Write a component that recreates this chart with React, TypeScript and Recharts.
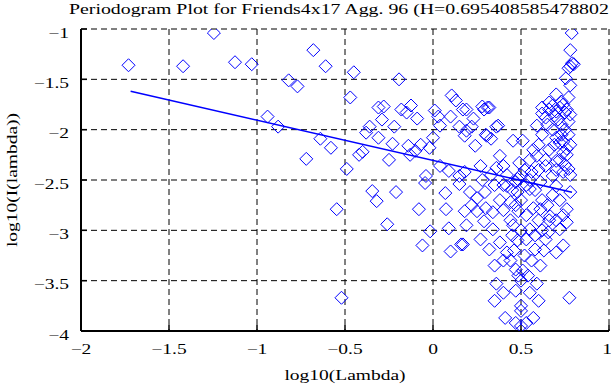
import React from "react";
import { ScatterChart, Scatter, XAxis, YAxis, CartesianGrid } from "recharts";

const X_TICKS = [-2, -1.5, -1, -0.5, 0, 0.5, 1];
const Y_TICKS = [-4, -3.5, -3, -2.5, -2, -1.5, -1];

// log10(Lambda), log10(I(lambda))
const periodogram: [number, number][] = [
  [-1.73, -1.36], [-1.42, -1.37], [-1.245, -1.04], [-1.125, -1.33], [-1.03, -1.35],
  [-0.82, -1.51], [-0.77, -1.57], [-0.68, -1.21], [-0.61, -1.37], [-0.45, -1.43],
  [-0.47, -1.68], [-0.94, -1.87], [-0.88, -1.97], [-0.64, -2.09], [-0.58, -2.18],
  [-0.72, -2.29], [-0.49, -2.39], [-0.42, -2.25], [-0.4, -2.22], [-0.38, -2.03],
  [-0.31, -1.78], [-0.345, -2.61], [-0.547, -2.79], [-0.52, -3.67], [-0.193, -1.5],
  [-0.28, -1.77], [-0.29, -1.9], [-0.22, -1.97], [-0.18, -1.8], [-0.125, -1.76],
  [-0.15, -1.83], [-0.09, -1.89], [-0.36, -1.97], [-0.31, -2.08], [-0.23, -2.14],
  [-0.14, -2.16], [-0.07, -2.15], [-0.25, -2.3], [-0.13, -2.25], [-0.1, -2.21],
  [-0.02, -2.18], [0.0, -2.08], [0.01, -1.81], [0.03, -1.87], [0.106, -1.66],
  [0.13, -1.71], [0.1, -1.87], [0.17, -1.8], [0.04, -1.96], [0.15, -1.97],
  [0.18, -2.06], [-0.32, -2.71], [-0.21, -2.62], [-0.045, -2.53], [-0.04, -2.46],
  [-0.08, -2.79], [-0.26, -2.94], [-0.016, -3.01], [-0.06, -3.15], [0.07, -2.63],
  [0.074, -2.79], [0.09, -2.98], [0.1, -3.21], [0.16, -3.14], [0.04, -2.36],
  [0.09, -2.41], [0.15, -2.46],
  // right-hand cluster
  [0.788, -1.04], [0.78, -1.21], [0.79, -1.34], [0.78, -1.37], [0.77, -1.39],
  [0.8, -1.35], [0.755, -1.49], [0.78, -1.56], [0.77, -1.68], [0.7, -1.65],
  [0.62, -1.78], [0.66, -1.73], [0.31, -1.78], [0.29, -1.8], [0.19, -1.8],
  [0.23, -1.89], [0.37, -1.96], [0.59, -1.96], [0.305, -2.06], [0.33, -2.09],
  [0.455, -2.11], [0.51, -2.11], [0.19, -2.01], [0.24, -2.16], [0.38, -2.26],
  [0.49, -2.33], [0.27, -2.36], [0.4, -2.36], [0.64, -2.36], [0.59, -2.26],
  [0.7, -2.31], [0.77, -2.39], [0.74, -2.23], [0.72, -2.13], [0.76, -2.19],
  [0.18, -2.42], [0.15, -2.54], [0.21, -2.62], [0.295, -2.62], [0.42, -2.56],
  [0.48, -2.49], [0.55, -2.59], [0.61, -2.52], [0.68, -2.46], [0.7, -2.56],
  [0.78, -2.62], [0.18, -2.81], [0.25, -2.81], [0.34, -2.82], [0.44, -2.72],
  [0.485, -2.81], [0.61, -2.79], [0.665, -2.86], [0.76, -2.79], [0.76, -2.92],
  [0.19, -2.95], [0.29, -2.91], [0.34, -2.99], [0.455, -2.95], [0.55, -2.99],
  [0.655, -3.02], [0.72, -2.99], [0.17, -3.14], [0.27, -3.09], [0.38, -3.12],
  [0.53, -3.09], [0.64, -3.09], [0.74, -3.15], [0.32, -3.19], [0.42, -3.22],
  [0.58, -3.19], [0.7, -3.22], [0.35, -3.35], [0.47, -3.39], [0.51, -3.4],
  [0.61, -3.35], [0.485, -3.45], [0.36, -3.53], [0.4, -3.62], [0.59, -3.53],
  [0.55, -3.62], [0.35, -3.7], [0.6, -3.7], [0.775, -3.67], [0.41, -3.87],
  [0.47, -3.92], [0.53, -3.92], [0.57, -3.87], [0.5, -3.95], [0.28, -1.77],
  [0.32, -1.78], [0.36, -1.97], [0.3, -2.05], [0.22, -1.97], [0.5, -3.75],
  [0.62, -1.84], [0.64, -1.88], [0.66, -1.8], [0.68, -1.76], [0.7, -1.82],
  [0.72, -1.78], [0.74, -1.75], [0.76, -1.8], [0.78, -1.85], [0.71, -1.9],
  [0.73, -1.95], [0.75, -2.0], [0.77, -2.05], [0.68, -2.0], [0.65, -1.95],
  [0.7, -2.08], [0.74, -2.12], [0.76, -2.25], [0.72, -2.3], [0.75, -2.35],
  [0.78, -2.45], [0.74, -2.42], [0.7, -2.4], [0.66, -2.2], [0.62, -2.05],
  [0.6, -2.15], [0.57, -2.2], [0.55, -2.3], [0.52, -2.4], [0.5, -2.45],
  [0.47, -2.52], [0.45, -2.6], [0.42, -2.45], [0.55, -2.5], [0.58, -2.6],
  [0.62, -2.7], [0.65, -2.75], [0.68, -2.65], [0.72, -2.7], [0.74, -2.85],
  [0.7, -2.9], [0.6, -2.9], [0.53, -2.85], [0.5, -2.7], [0.47, -2.75],
  [0.44, -2.9], [0.4, -2.8], [0.38, -2.7], [0.35, -2.55], [0.33, -2.45],
  [0.5, -3.0], [0.48, -3.1], [0.45, -3.05], [0.52, -3.25], [0.56, -3.3],
  [0.44, -3.3], [0.5, -3.5], [0.5, -3.8], [0.73, -1.72], [0.75, -1.83],
  [0.69, -1.86], [0.77, -1.92], [0.73, -2.05], [0.69, -2.15], [0.78, -2.15],
  [0.64, -2.3], [0.6, -2.4], [0.56, -2.42], [0.53, -2.55], [0.48, -2.62],
  [0.4, -2.55], [0.36, -2.38], [0.28, -2.5], [0.25, -2.68], [0.22, -2.75],
  [0.3, -2.78], [0.57, -2.78], [0.66, -2.9], [0.62, -3.0], [0.58, -3.05],
  [0.46, -3.2], [0.4, -3.3], [0.54, -3.45], [0.47, -3.6], [0.63, -3.2],
];

const fitX = [-1.718, 0.79];
const fitY = [-1.619, -2.622];

const points = periodogram.map(([x, y]) => ({ x, y }));
const fitLine = fitX.map((x, i) => ({ x, y: fitY[i] }));

const BLUE = "#0000ff";
const FONT = "'Liberation Serif', 'Times New Roman', serif";
const STRETCH = 1.3;

const fmt = (v: number) => (v < 0 ? "\u2212" + String(-v) : String(v));

const Diamond = (props: any) => {
  const { cx, cy } = props;
  if (cx == null || cy == null) return <g />;
  const r = 6.5;
  return (
    <path
      d={`M${cx},${cy - r}L${cx + r},${cy}L${cx},${cy + r}L${cx - r},${cy}Z`}
      fill="none"
      stroke={BLUE}
      strokeWidth={1}
    />
  );
};

const BottomTick = (props: any) => {
  const { x, y, payload } = props;
  return (
    <text
      transform={`translate(${x},${y + 29}) scale(${STRETCH},1)`}
      textAnchor="middle"
      fontFamily={FONT}
      fontSize={15}
      fill="#000"
    >
      {fmt(payload.value)}
    </text>
  );
};

const LeftTick = (props: any) => {
  const { x, y, payload } = props;
  return (
    <text
      transform={`translate(${x},${y + 8.5}) scale(${STRETCH},1)`}
      textAnchor="end"
      fontFamily={FONT}
      fontSize={15}
      fill="#000"
    >
      {fmt(payload.value)}
    </text>
  );
};

export default function App() {
  return (
    <div style={{ position: "absolute", left: 0, top: 0, width: 611, height: 385, background: "#fff" }}>
      <ScatterChart width={611} height={385} margin={{ top: 29, right: 2, bottom: 0, left: 0 }}>
        <CartesianGrid stroke="#000" strokeDasharray="6 4" strokeWidth={1} />
        <XAxis
          type="number"
          dataKey="x"
          domain={[-2, 1]}
          ticks={X_TICKS}
          allowDataOverflow
          height={54}
          tickSize={-6}
          tickMargin={0}
          tick={<BottomTick />}
          axisLine={{ stroke: "#000", strokeWidth: 2 }}
          tickLine={{ stroke: "#000", strokeWidth: 1.5 }}
        />
        <XAxis
          xAxisId="top"
          orientation="top"
          type="number"
          dataKey="x"
          domain={[-2, 1]}
          ticks={X_TICKS}
          allowDataOverflow
          height={0}
          tickSize={-6}
          tick={false}
          axisLine={{ stroke: "#000", strokeWidth: 2 }}
          tickLine={{ stroke: "#000", strokeWidth: 1.5 }}
        />
        <YAxis
          type="number"
          dataKey="y"
          domain={[-4, -1]}
          ticks={Y_TICKS}
          allowDataOverflow
          width={81}
          tickSize={-6}
          tickMargin={18}
          tick={<LeftTick />}
          axisLine={{ stroke: "#000", strokeWidth: 2 }}
          tickLine={{ stroke: "#000", strokeWidth: 1.5 }}
        />
        <YAxis
          yAxisId="right"
          orientation="right"
          type="number"
          dataKey="y"
          domain={[-4, -1]}
          ticks={Y_TICKS}
          allowDataOverflow
          width={0}
          tickSize={-6}
          tick={false}
          axisLine={{ stroke: "#000", strokeWidth: 2 }}
          tickLine={{ stroke: "#000", strokeWidth: 1.5 }}
        />
        <Scatter data={points} shape={<Diamond />} isAnimationActive={false} />
        <Scatter
          data={fitLine}
          line={{ stroke: BLUE, strokeWidth: 1.5 }}
          shape={() => <g />}
          isAnimationActive={false}
        />
      </ScatterChart>
      <svg
        width={611}
        height={385}
        style={{ position: "absolute", left: 0, top: 0, pointerEvents: "none" }}
        fontFamily={FONT}
        fontSize={15}
      >
        <text transform="translate(69,14) scale(1.322,1)" textAnchor="start">
          Periodogram Plot for Friends4x17 Agg. 96 (H=0.695408585478802
        </text>
        <text transform={`translate(345,380) scale(${STRETCH},1)`} textAnchor="middle">
          log10(Lambda)
        </text>
        <text transform={`translate(17,180) rotate(-90) scale(${STRETCH},1)`} textAnchor="middle">
          log10(I(lambda))
        </text>
      </svg>
    </div>
  );
}
